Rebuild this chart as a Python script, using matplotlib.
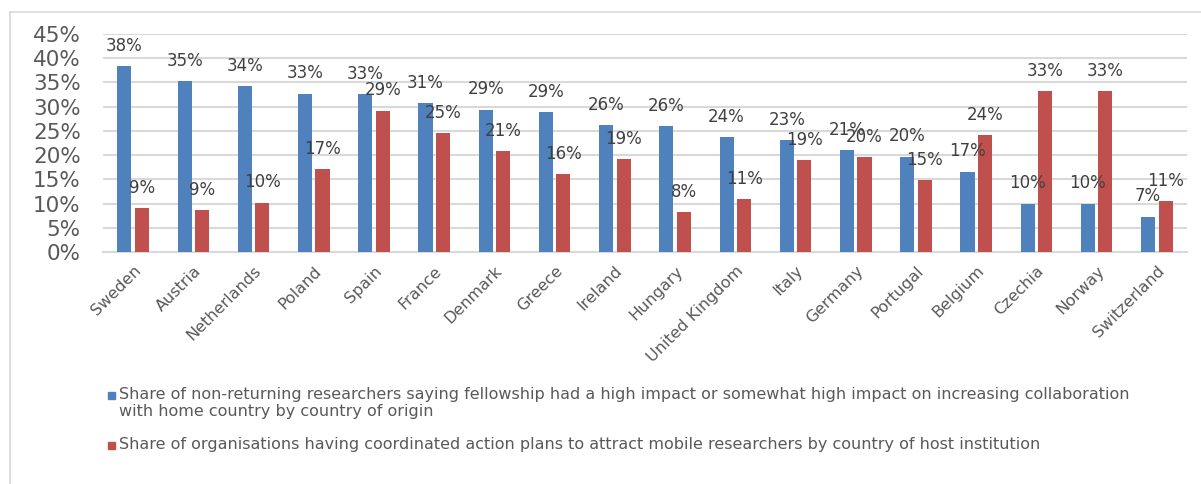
import matplotlib.pyplot as plt
import numpy as np
from matplotlib.lines import Line2D
from matplotlib.patches import Rectangle

countries = ['Sweden', 'Austria', 'Netherlands', 'Poland', 'Spain', 'France',
             'Denmark', 'Greece', 'Ireland', 'Hungary', 'United Kingdom',
             'Italy', 'Germany', 'Portugal', 'Belgium', 'Czechia', 'Norway',
             'Switzerland']
collab_share = [0.384, 0.352, 0.342, 0.327, 0.326, 0.308, 0.294, 0.289, 0.262,
                0.260, 0.238, 0.231, 0.211, 0.197, 0.166, 0.100, 0.100, 0.073]
plans_share = [0.091, 0.086, 0.102, 0.171, 0.292, 0.246, 0.209, 0.161, 0.192,
               0.083, 0.110, 0.190, 0.196, 0.149, 0.242, 0.333, 0.333, 0.106]
legend_labels = [
    'Share of non-returning researchers saying fellowship had a high impact or '
    'somewhat high impact on increasing collaboration\n'
    'with home country by country of origin',
    'Share of organisations having coordinated action plans to attract mobile '
    'researchers by country of host institution',
]

blue = '#4F81BD'
red = '#C0504D'
grid_col = '#D9D9D9'
txt_col = '#595959'
lbl_col = '#404040'


def main():
    fig = plt.figure(figsize=(12.01, 4.84), dpi=100)
    ax = fig.add_axes([103 / 1201, 1 - 252 / 484, (1187 - 103) / 1201, (252 - 34) / 484])

    x = np.arange(len(countries))
    w = 0.235
    off = 0.145
    b1 = ax.bar(x - off, collab_share, w, color=blue, zorder=3)
    b2 = ax.bar(x + off, plans_share, w, color=red, zorder=3)

    # data labels above each bar
    for bars, vals in ((b1, collab_share), (b2, plans_share)):
        for rect, v in zip(bars, vals):
            ax.annotate('{:.0f}%'.format(v * 100),
                        (rect.get_x() + rect.get_width() / 2, v),
                        xytext=(0, 14.5), textcoords='offset points',
                        ha='center', va='center', fontsize=12,
                        color=lbl_col, zorder=4)

    ax.set_xlim(-0.5, len(countries) - 0.5)
    ax.set_ylim(0, 0.45)
    ticks = np.arange(0, 0.451, 0.05)
    ax.set_yticks(ticks)
    ax.set_yticklabels(['{:.0f}%'.format(t * 100) for t in ticks],
                       fontsize=15.5, color=txt_col)
    ax.set_xticks(x)
    ax.set_xticklabels(countries, rotation=45, ha='right', va='top',
                       rotation_mode='anchor', fontsize=11.5, color=txt_col)
    ax.tick_params(axis='both', length=0)
    ax.tick_params(axis='y', pad=16)
    ax.tick_params(axis='x', pad=8)
    ax.yaxis.grid(True, color=grid_col, linewidth=1.5, zorder=0)
    ax.set_axisbelow(True)
    for s in ('top', 'right', 'left'):
        ax.spines[s].set_visible(False)
    ax.spines['bottom'].set_color(grid_col)
    ax.spines['bottom'].set_linewidth(1.5)

    # outer chart border (top and left only visible)
    fig.add_artist(Line2D([10 / 1201, 1.0], [1 - 12 / 484, 1 - 12 / 484],
                          color=grid_col, linewidth=1.2))
    fig.add_artist(Line2D([10 / 1201, 10 / 1201], [0, 1 - 12 / 484],
                          color=grid_col, linewidth=1.2))

    # legend, drawn by hand so the marker sits on the first line
    # (y of the first text line's centre, in pixels from the top)
    for col, label, yc in ((blue, legend_labels[0], 395), (red, legend_labels[1], 445)):
        fig.add_artist(Rectangle((108 / 1201, 1 - (yc + 4) / 484), 7 / 1201, 7 / 484,
                                 transform=fig.transFigure, color=col))
        fig.text(119 / 1201, 1 - (yc - 8) / 484, label, fontsize=11.5, color=txt_col,
                 ha='left', va='top', linespacing=1.2)

    fig.savefig('out.png', dpi=100)


if __name__ == "__main__":
    main()
